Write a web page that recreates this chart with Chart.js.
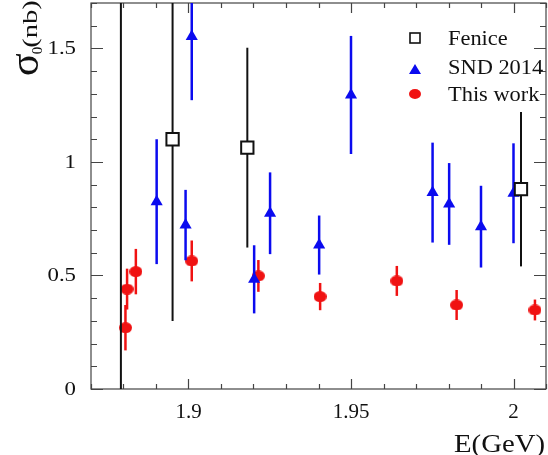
<!DOCTYPE html>
<html>
<head>
<meta charset="utf-8">
<script src="https://cdn.jsdelivr.net/npm/chart.js@4/dist/chart.umd.min.js"></script>
<style>
  html, body { margin: 0; padding: 0; background: #fff; }
  canvas { display: block; }
</style>
</head>
<body>
<canvas id="sigma-chart" width="548" height="455"></canvas>
<script>
// Fenice
const feniceE = [1.8792, 1.8951, 1.9181, 2.0023];
const feniceSigma = [2.4, 1.10, 1.063, 0.88];
const feniceErr = [2.5, 0.80, 0.44, 0.34];

// SND 2014
const sndE = [1.8902, 1.8991, 1.901, 1.9202, 1.9251, 1.9402, 1.95, 1.9751, 1.9802, 1.99, 2.0];
const sndSigma = [0.825, 0.722, 1.552, 0.483, 0.774, 0.634, 1.295, 0.865, 0.815, 0.715, 0.862];
const sndErr = [0.275, 0.155, 0.28, 0.15, 0.18, 0.13, 0.26, 0.22, 0.18, 0.18, 0.22];

// this work
const thisE = [1.8806, 1.8811, 1.8838, 1.901, 1.9215, 1.9405, 1.9641, 1.9825, 2.0066];
const thisSigma = [0.27, 0.44, 0.517, 0.564, 0.498, 0.407, 0.476, 0.37, 0.348];
const thisErr = [0.10, 0.09, 0.10, 0.09, 0.07, 0.06, 0.066, 0.066, 0.046];

const xTicks = [1.9, 1.95, 2.0];
const xTickLabels = ["1.9", "1.95", "2"];
const yTicks = [0, 0.5, 1, 1.5];
const yTickLabels = ["0", "0.5", "1", "1.5"];

const SERIF = "'Liberation Serif', serif";
const BLUE = "#0b0bef";
const RED = "#f01212";

function points(es, vs, errs) {
  return es.map((e, i) => ({ x: e, y: vs[i], err: errs[i] }));
}

// ROOT style markers come out slightly wider than tall
function ellipseMarker(w, h, color) {
  const c = document.createElement("canvas");
  c.width = w;
  c.height = h;
  const g = c.getContext("2d");
  g.fillStyle = color;
  g.beginPath();
  g.ellipse(w / 2, h / 2, w / 2, h / 2, 0, 0, Math.PI * 2);
  g.fill();
  return c;
}

function text(ctx, str, x, y, size, align, sx) {
  ctx.save();
  ctx.translate(x, y);
  ctx.scale(sx || 1, 1);
  ctx.font = size + "px " + SERIF;
  ctx.textAlign = align;
  ctx.fillStyle = "#111";
  ctx.fillText(str, 0, 0);
  ctx.restore();
}

const errorBars = {
  id: "errorBars",
  beforeDatasetDraw(chart, args) {
    const ds = chart.data.datasets[args.index];
    const { ctx, chartArea: a, scales } = chart;
    ctx.save();
    ctx.beginPath();
    ctx.rect(a.left, a.top, a.right - a.left, a.bottom - a.top);
    ctx.clip();
    ctx.strokeStyle = ds.errColor;
    ctx.lineWidth = ds.errWidth;
    ds.data.forEach(function (p) {
      const x = scales.x.getPixelForValue(p.x);
      ctx.beginPath();
      ctx.moveTo(x, scales.y.getPixelForValue(p.y - p.err));
      ctx.lineTo(x, scales.y.getPixelForValue(p.y + p.err));
      ctx.stroke();
    });
    ctx.restore();
  },
};

// frame with inward ticks on all four sides
const frame = {
  id: "frame",
  beforeDatasetsDraw(chart) {
    const { ctx, chartArea: a, scales } = chart;
    ctx.save();
    ctx.strokeStyle = "#444";
    ctx.lineWidth = 1.2;
    ctx.strokeRect(a.left, a.top, a.right - a.left, a.bottom - a.top);
    ctx.beginPath();
    for (let i = 0; i <= 17; i++) {
      const y = Math.round(scales.y.getPixelForValue(i / 10)) + 0.5;
      const len = i % 5 === 0 ? 12 : 6;
      ctx.moveTo(a.left, y);
      ctx.lineTo(a.left + len, y);
      ctx.moveTo(a.right, y);
      ctx.lineTo(a.right - len, y);
    }
    for (let i = 187; i <= 201; i++) {
      const x = Math.round(scales.x.getPixelForValue(i / 100)) + 0.5;
      const len = i % 5 === 0 ? 10 : 5;
      ctx.moveTo(x, a.bottom);
      ctx.lineTo(x, a.bottom - len);
      ctx.moveTo(x, a.top);
      ctx.lineTo(x, a.top + len);
    }
    ctx.stroke();
    ctx.restore();
  },
  afterDraw(chart) {
    const { ctx, scales } = chart;
    ctx.save();
    ctx.textBaseline = "middle";
    yTicks.forEach(function (v, i) {
      text(ctx, yTickLabels[i], 76, scales.y.getPixelForValue(v) + 1, 19, "right", 1.2);
    });
    ctx.textBaseline = "alphabetic";
    xTicks.forEach(function (v, i) {
      text(ctx, xTickLabels[i], scales.x.getPixelForValue(v), 418, 20, "center", 1.05);
    });
    text(ctx, "E(GeV)", 545, 452, 25, "right", 1.15);

    // rotated y title: sigma with subscript 0
    ctx.translate(38, 76);
    ctx.rotate(-Math.PI / 2);
    ctx.fillStyle = "#111";
    ctx.font = "42px " + SERIF;
    ctx.fillText("σ", 0, 0);
    const w = ctx.measureText("σ").width;
    ctx.font = "15px " + SERIF;
    ctx.fillText("0", w - 1, 4);
    const w0 = ctx.measureText("0").width;
    text(ctx, "(nb)", w + w0 - 2, -1, 22, "left", 1.3);
    ctx.restore();

    // legend
    ctx.save();
    ctx.strokeStyle = "#111";
    ctx.lineWidth = 1.6;
    ctx.strokeRect(410, 33, 10, 10);
    ctx.fillStyle = BLUE;
    ctx.beginPath();
    ctx.moveTo(415, 64);
    ctx.lineTo(421, 74);
    ctx.lineTo(409, 74);
    ctx.closePath();
    ctx.fill();
    ctx.drawImage(ellipseMarker(12, 10, RED), 409, 89);
    text(ctx, "Fenice", 448, 44.5, 20, "left", 1.12);
    text(ctx, "SND 2014", 448, 74, 20, "left", 1.12);
    text(ctx, "This work", 448, 100.5, 20, "left", 1.12);
    ctx.restore();
  },
};

new Chart(document.getElementById("sigma-chart"), {
  type: "scatter",
  data: {
    datasets: [
      {
        label: "Fenice",
        data: points(feniceE, feniceSigma, feniceErr),
        pointStyle: "rect",
        pointRadius: 8.7,
        pointBackgroundColor: "#fff",
        pointBorderColor: "#111",
        pointBorderWidth: 2,
        errColor: "#111",
        errWidth: 2,
      },
      {
        label: "SND 2014",
        data: points(sndE, sndSigma, sndErr),
        pointStyle: "triangle",
        pointRadius: 7,
        pointBackgroundColor: BLUE,
        pointBorderColor: BLUE,
        pointBorderWidth: 0,
        errColor: BLUE,
        errWidth: 2.5,
      },
      {
        label: "This work",
        data: points(thisE, thisSigma, thisErr),
        pointStyle: ellipseMarker(13, 11, RED),
        pointRadius: 6,
        pointBackgroundColor: RED,
        pointBorderColor: RED,
        pointBorderWidth: 0,
        errColor: RED,
        errWidth: 2.5,
      },
    ],
  },
  options: {
    responsive: false,
    animation: false,
    devicePixelRatio: 1,
    layout: { autoPadding: false, padding: { left: 91, top: 3, right: 2, bottom: 66 } },
    scales: {
      x: { type: "linear", min: 1.87, max: 2.01, display: false },
      y: { type: "linear", min: 0, max: 1.7, display: false },
    },
    plugins: {
      legend: { display: false },
      tooltip: { enabled: false },
    },
  },
  plugins: [errorBars, frame],
});
</script>
</body>
</html>
